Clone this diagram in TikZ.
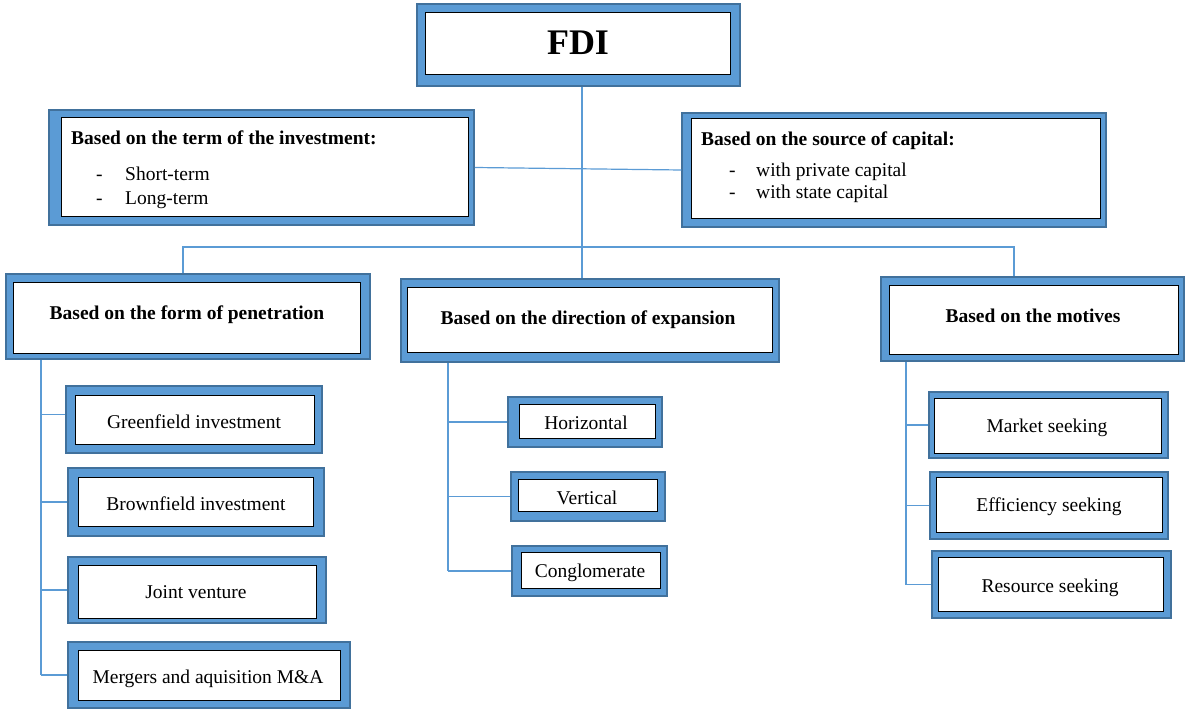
\documentclass[tikz,border=0pt]{standalone}
\usepackage{fontspec}
\setmainfont{Liberation Serif}
\usetikzlibrary{fit}
\definecolor{bfill}{RGB}{91,155,213}
\definecolor{bdraw}{RGB}{65,113,156}
\definecolor{conn}{RGB}{91,155,213}
\tikzset{
  ob/.style={draw=bdraw, fill=bfill, line width=1.5pt, inner sep=0pt},
  ib/.style={draw=black, fill=white, line width=1pt, inner sep=0pt},
  tx/.style={inner sep=0pt, font=\fontsize{19.5}{23}\selectfont},
  hd/.style={inner sep=0pt, font=\fontsize{19.5}{23}\selectfont\bfseries},
  cn/.style={draw=conn, line width=1.2pt},
}
\newcommand\fbx[3]{%
  \node[ob, fit={#2}] (#1o) {};
  \node[ib, fit={#3}] (#1i) {};}
\begin{document}
\begin{tikzpicture}[x=1pt,y=-1pt]
\useasboundingbox (0,0) rectangle (1185,711);
\coordinate (vx) at (582,0);
\coordinate (hl) at (183,247);
\coordinate (hr) at (1014,247);
\coordinate (pv) at (41,0);
\coordinate (dv) at (448,0);
\coordinate (mv) at (906,0);
% boxes
\fbx{fdi}{(417,4) (740,86)}{(425,13) (730,75)}
\fbx{term}{(49,110) (474,225)}{(61,118) (468,217)}
\fbx{src}{(682,113) (1106,227)}{(691,119) (1100,219)}
\fbx{pen}{(6,274) (370,359)}{(13,282) (360,353)}
\fbx{dir}{(401,279) (779,362)}{(407,287) (772,352)}
\fbx{mot}{(881,277) (1184,361)}{(889,285) (1178,354)}
\fbx{gr}{(66,386) (322,453)}{(75,395) (314,444)}
\fbx{br}{(68,468) (324,536)}{(78,477) (313,526)}
\fbx{jv}{(68,557) (326,623)}{(78,565) (316,618)}
\fbx{ma}{(68,642) (350,708)}{(78,650) (340,700)}
\fbx{ho}{(508,397) (662,447)}{(519,404) (655,438)}
\fbx{ve}{(511,472) (665,521)}{(518,479) (657,511)}
\fbx{co}{(512,546) (667,596)}{(521,552) (660,588)}
\fbx{mk}{(929,392) (1168,458)}{(934,398) (1161,453)}
\fbx{ef}{(930,472) (1168,539)}{(936,477) (1162,532)}
\fbx{rs}{(932,551) (1171,618)}{(938,557) (1163,611)}
% texts
\node[inner sep=0pt, font=\fontsize{36}{40}\selectfont\bfseries] (fdit) at (578,43) {FDI};
\node[hd, anchor=base west] (termt) at (71,145) {Based on the term of the investment:};
\node[tx, anchor=base west] (termd1) at (96,181) {-};
\node[tx, anchor=base west] (terma) at (125,181) {Short-term};
\node[tx, anchor=base west] (termd2) at (96,205) {-};
\node[tx, anchor=base west] (termb) at (125,205) {Long-term};
\node[hd, anchor=base west] (srct) at (701,146) {Based on the source of capital:};
\node[tx, anchor=base west] (srcd1) at (729,177) {-};
\node[tx, anchor=base west] (srca) at (756,177) {with private capital};
\node[tx, anchor=base west] (srcd2) at (729,199) {-};
\node[tx, anchor=base west] (srcb) at (756,199) {with state capital};
\node[hd, anchor=base] (pent) at (187,319) {Based on the form of penetration};
\node[hd, anchor=base] (dirt) at (588,324) {Based on the direction of expansion};
\node[hd, anchor=base] (mott) at (1033,322) {Based on the motives};
\node[tx, anchor=base] (grt) at (194,428) {Greenfield investment};
\node[tx, anchor=base] (brt) at (196,510) {Brownfield investment};
\node[tx, anchor=base] (jvt) at (196,598) {Joint venture};
\node[tx, anchor=base] (mat) at (208,683) {Mergers and aquisition M\&A};
\node[tx, anchor=base] (hot) at (586,429) {Horizontal};
\node[tx, anchor=base] (vet) at (587,504) {Vertical};
\node[tx, anchor=base] (cot) at (590,577) {Conglomerate};
\node[tx, anchor=base] (mkt) at (1047,432) {Market seeking};
\node[tx, anchor=base] (eft) at (1049,511) {Efficiency seeking};
\node[tx, anchor=base] (rst) at (1050,592) {Resource seeking};
% connectors
\coordinate (grb) at ([yshift=5pt]gro.west);
\draw[cn] (fdio.south -| vx) -- (diro.north -| vx);
\draw[cn] (termo.east) -- (srco.west);
\draw[cn] (peno.north -| hl) -- (hl) -- (hr) -- (moto.north -| hr);
\draw[cn] (peno.south -| pv) -- (pv |- mao.west);
\draw[cn] (pv |- grb) -- (grb);
\draw[cn] (pv |- bro.west) -- (bro.west);
\draw[cn] (pv |- jvo.west) -- (jvo.west);
\draw[cn] (pv |- mao.west) -- (mao.west);
\draw[cn] (diro.south -| dv) -- (dv |- coo.west);
\draw[cn] (dv |- hoo.west) -- (hoo.west);
\draw[cn] (dv |- veo.west) -- (veo.west);
\draw[cn] (dv |- coo.west) -- (coo.west);
\draw[cn] (moto.south -| mv) -- (mv |- rso.west);
\draw[cn] (mv |- mko.west) -- (mko.west);
\draw[cn] (mv |- efo.west) -- (efo.west);
\draw[cn] (mv |- rso.west) -- (rso.west);
\end{tikzpicture}
\end{document}
